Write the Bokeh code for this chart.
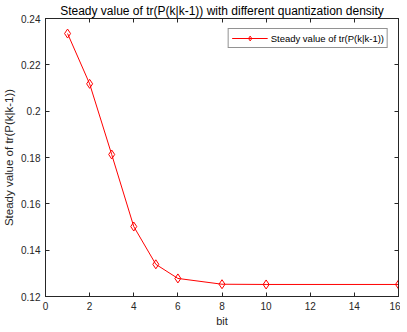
from bokeh.plotting import figure
from bokeh.models import LinearAxis, FixedTicker, Range1d, Legend, LegendItem
from bokeh.embed import file_html
from bokeh.resources import INLINE

bits = [1, 2, 3, 4, 5, 6, 8, 10, 16]
steady = [0.2335, 0.2118, 0.1813, 0.1502, 0.1339, 0.1278, 0.1253, 0.1252, 0.1252]
x_ticks = [0, 2, 4, 6, 8, 10, 12, 14, 16]
y_ticks = [0.12, 0.14, 0.16, 0.18, 0.2, 0.22, 0.24]
y_labels = ["0.12", "0.14", "0.16", "0.18", "0.2", "0.22", "0.24"]

FONT = "Liberation Sans"
AX = "#262626"

p = figure(frame_width=353, frame_height=278, output_backend="svg", toolbar_location=None,
           x_range=Range1d(0, 16), y_range=Range1d(0.12, 0.24),
           title="Steady value of tr(P(k|k-1)) with different quantization density",
           min_border_left=40, min_border_right=2, min_border_top=0, min_border_bottom=0)
p.title.text_font = FONT
p.title.text_font_size = "12px"
p.title.text_font_style = "normal"
p.title.align = "center"
p.title.text_color = "black"
p.title.standoff = 2
p.grid.visible = False
p.outline_line_color = AX
p.background_fill_color = "white"
p.border_fill_color = "white"

def style_axis(ax, labels=True):
    ax.axis_line_color = AX
    ax.major_tick_line_color = AX
    ax.minor_tick_line_color = None
    ax.major_tick_in = 4
    ax.major_tick_out = 0
    ax.major_label_text_font = FONT
    ax.major_label_text_font_size = "10px"
    ax.major_label_text_color = AX if labels else None
    ax.axis_label_text_font = FONT
    ax.axis_label_text_font_size = "11px"
    ax.axis_label_text_font_style = "normal"
    ax.axis_label_text_color = AX
    ax.major_label_standoff = 4

p.xaxis.ticker = FixedTicker(ticks=x_ticks)
p.yaxis.ticker = FixedTicker(ticks=y_ticks)
p.yaxis.major_label_overrides = {t: l for t, l in zip(y_ticks, y_labels)}
p.xaxis.axis_label = "bit"
p.yaxis.axis_label = "Steady value of tr(P(k|k-1))"
style_axis(p.xaxis[0])
style_axis(p.yaxis[0])
p.xaxis.major_label_standoff = 5
p.xaxis.axis_label_standoff = 2
p.yaxis.major_label_standoff = 5
p.yaxis.axis_label_standoff = 3
p.yaxis.axis_label_text_font_size = "11.5px"

top = LinearAxis(ticker=FixedTicker(ticks=x_ticks))
right = LinearAxis(ticker=FixedTicker(ticks=y_ticks))
for ax in (top, right):
    style_axis(ax, labels=False)
    ax.major_label_text_font_size = "0px"
    ax.major_label_standoff = 0
p.add_layout(top, "above")
p.add_layout(right, "right")

ln = p.line(bits, steady, line_color="#ff0000", line_width=1)
mk = p.scatter(bits, steady, marker="diamond", size=9, line_color="#ff0000",
               fill_color=None, line_width=1)

legend = Legend(items=[LegendItem(label="Steady value of tr(P(k|k-1))", renderers=[ln, mk])],
                location="top_right")
legend.label_text_font = FONT
legend.label_text_font_size = "9.5px"
legend.label_text_color = "black"
legend.border_line_color = AX
legend.border_line_width = 1
legend.glyph_width = 36
legend.glyph_height = 12
legend.label_height = 12
legend.label_standoff = 3
legend.padding = 3
legend.margin = 10
legend.spacing = 0
p.add_layout(legend, "center")

open("out.html", "w").write(file_html(p, INLINE))
